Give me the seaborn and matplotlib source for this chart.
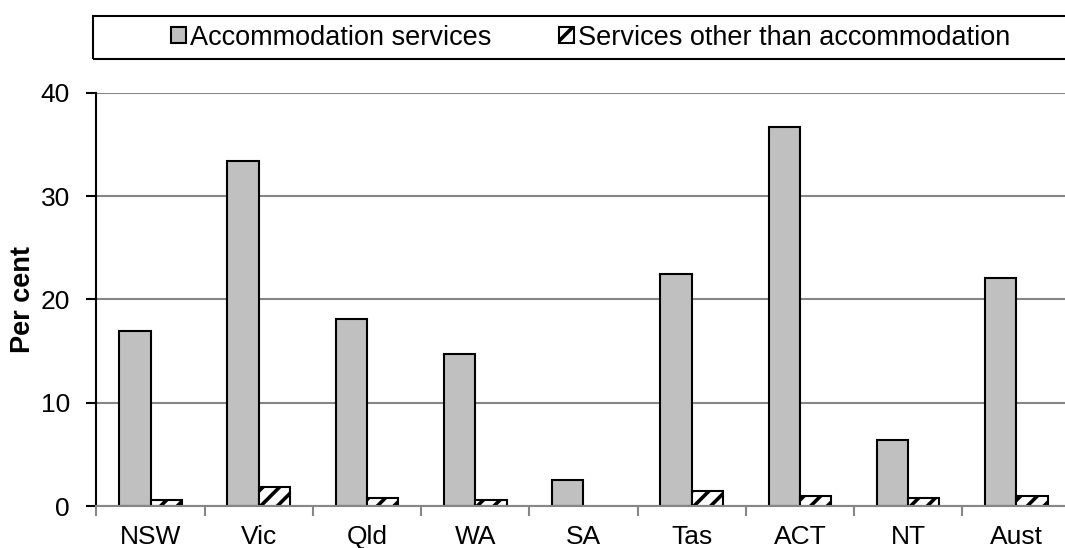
import matplotlib
matplotlib.use("Agg")
import matplotlib.pyplot as plt
from matplotlib.patches import Rectangle
from matplotlib.ticker import FixedLocator
import seaborn as sns
import numpy as np
import pandas as pd

# values
states = ["NSW", "Vic", "Qld", "WA", "SA", "Tas", "ACT", "NT", "Aust"]
accommodation = [16.9, 33.4, 18.1, 14.7, 2.5, 22.5, 36.7, 6.4, 22.1]
other_services = [0.6, 1.8, 0.8, 0.6, np.nan, 1.5, 1.0, 0.8, 1.0]
series_names = ["Accommodation services", "Services other than accommodation"]

sns.set_style("white")
plt.rcParams['font.family'] = ['Liberation Sans', 'DejaVu Sans']
plt.rcParams['hatch.linewidth'] = 2.6
plt.rcParams['hatch.color'] = 'black'
plt.rcParams['text.color'] = 'black'
plt.rcParams['axes.labelcolor'] = 'black'
plt.rcParams['xtick.labelcolor'] = 'black'
plt.rcParams['ytick.labelcolor'] = 'black'

# long table for seaborn
df = pd.DataFrame({
    "state": states * 2,
    "value": accommodation + other_services,
    "series": [series_names[0]] * len(states) + [series_names[1]] * len(states),
})

fig = plt.figure(figsize=(10.65, 5.48), dpi=100)
ax = fig.add_axes([0.0906, 0.0766, 0.9145, 0.7542])

sns.barplot(data=df, x="state", y="value", hue="series", order=states,
            hue_order=series_names, palette=["#c0c0c0", "white"],
            width=0.58, gap=0, edgecolor="black", linewidth=1.5,
            saturation=1, ax=ax, legend=False)

# hatched second series
for bar in ax.containers[1]:
    bar.set_hatch("//")
    bar.set_facecolor("white")

ax.set_ylim(0, 40)
ax.set_xlim(-0.5, len(states) - 0.5)
ax.set_yticks([0, 10, 20, 30, 40])
ax.set_xlabel("")
ax.set_ylabel("Per cent", fontsize=19.5, fontweight="bold")
ax.yaxis.set_label_coords(-0.062, 0.5)

ax.yaxis.grid(True, color="#868686", linewidth=1.5)
ax.set_axisbelow(True)

for s in ["top", "right"]:
    ax.spines[s].set_visible(False)
ax.spines["left"].set_color("black")
ax.spines["left"].set_linewidth(1.5)
ax.spines["bottom"].set_color("#868686")
ax.spines["bottom"].set_linewidth(1.5)

ax.tick_params(axis="y", direction="out", length=7, width=1.5, color="black",
               labelsize=19, pad=12, left=True)
ax.tick_params(axis="x", which="major", length=0, labelsize=19, pad=14)
ax.xaxis.set_minor_locator(FixedLocator(np.arange(-0.5, len(states), 1.0)))
ax.tick_params(axis="x", which="minor", direction="out", length=7, width=1.5,
               color="#868686", bottom=True)

# legend across the top
handles = [ax.containers[0][0], ax.containers[1][0]]
fig.legend(handles, series_names, ncol=2, loc="center",
           bbox_to_anchor=(0.5545, 0.9312), frameon=False, fontsize=19.5,
           handlelength=0.55, handleheight=0.55, handletextpad=0.15,
           columnspacing=2.5)
fig.add_artist(Rectangle((0.0873, 0.8918), 0.95, 0.079, transform=fig.transFigure,
                         fill=False, edgecolor="black", linewidth=1.5))

fig.savefig("out.png", dpi=100)
